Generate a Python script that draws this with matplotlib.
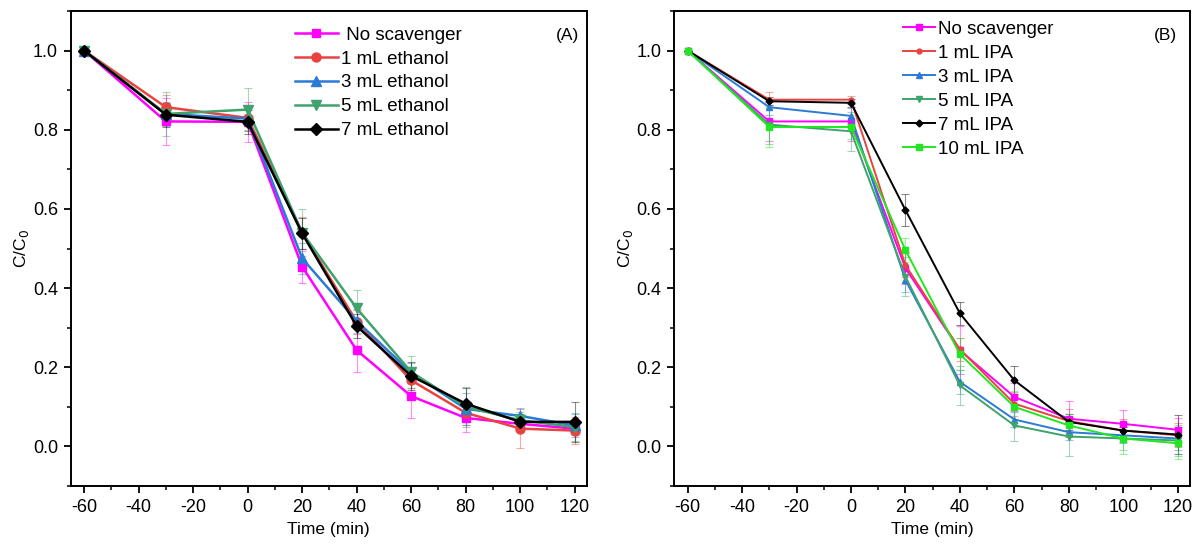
import matplotlib
matplotlib.use("Agg")
import matplotlib.pyplot as plt
from matplotlib.ticker import MultipleLocator

plt.rcParams['font.family'] = ['Liberation Sans', 'DejaVu Sans']
plt.rcParams['axes.unicode_minus'] = False

time = [-60, -30, 0, 20, 40, 60, 80, 100, 120]

# Panel A: ethanol scavenger
labels_a = [" No scavenger", "1 mL ethanol", "3 mL ethanol", "5 mL ethanol", "7 mL ethanol"]
a_none = [1.0, 0.821, 0.820, 0.454, 0.243, 0.127, 0.072, 0.057, 0.045]
a_1ml = [1.0, 0.857, 0.830, 0.540, 0.315, 0.167, 0.085, 0.045, 0.040]
a_3ml = [1.0, 0.840, 0.828, 0.475, 0.317, 0.186, 0.095, 0.077, 0.053]
a_5ml = [1.0, 0.840, 0.851, 0.540, 0.349, 0.188, 0.100, 0.066, 0.049]
a_7ml = [1.0, 0.838, 0.820, 0.538, 0.304, 0.178, 0.108, 0.062, 0.062]
a_none_err = [0.0, 0.060, 0.050, 0.040, 0.055, 0.055, 0.035, 0.015, 0.015]
a_1ml_err = [0.0, 0.030, 0.030, 0.040, 0.030, 0.020, 0.030, 0.050, 0.035]
a_3ml_err = [0.0, 0.030, 0.030, 0.040, 0.030, 0.025, 0.040, 0.020, 0.030]
a_5ml_err = [0.0, 0.055, 0.055, 0.060, 0.045, 0.040, 0.050, 0.020, 0.035]
a_7ml_err = [0.0, 0.030, 0.030, 0.040, 0.030, 0.035, 0.040, 0.020, 0.050]

# Panel B: IPA scavenger
labels_b = ["No scavenger", "1 mL IPA", "3 mL IPA", "5 mL IPA", "7 mL IPA", "10 mL IPA"]
b_none = [1.0, 0.821, 0.821, 0.450, 0.243, 0.125, 0.070, 0.057, 0.042]
b_1ml = [1.0, 0.876, 0.876, 0.458, 0.245, 0.108, 0.064, 0.040, 0.028]
b_3ml = [1.0, 0.857, 0.835, 0.420, 0.163, 0.068, 0.036, 0.028, 0.020]
b_5ml = [1.0, 0.813, 0.796, 0.429, 0.154, 0.053, 0.025, 0.020, 0.015]
b_7ml = [1.0, 0.872, 0.868, 0.597, 0.336, 0.167, 0.062, 0.040, 0.030]
b_10ml = [1.0, 0.807, 0.807, 0.496, 0.233, 0.100, 0.053, 0.020, 0.008]
b_none_err = [0.0, 0.050, 0.050, 0.040, 0.060, 0.035, 0.045, 0.035, 0.030]
b_1ml_err = [0.0, 0.020, 0.010, 0.030, 0.030, 0.030, 0.030, 0.030, 0.030]
b_3ml_err = [0.0, 0.020, 0.020, 0.030, 0.030, 0.020, 0.020, 0.020, 0.030]
b_5ml_err = [0.0, 0.050, 0.050, 0.050, 0.050, 0.040, 0.050, 0.030, 0.040]
b_7ml_err = [0.0, 0.010, 0.010, 0.040, 0.030, 0.035, 0.020, 0.020, 0.050]
b_10ml_err = [0.0, 0.050, 0.030, 0.030, 0.040, 0.040, 0.030, 0.040, 0.040]

xticks = [-60, -40, -20, 0, 20, 40, 60, 80, 100, 120]
yticks = [0.0, 0.2, 0.4, 0.6, 0.8, 1.0]

MAG = '#ff00ff'
RED = '#e8433f'
BLUE = '#2b7bd6'
GRN = '#3ea36c'
BLK = '#000000'
LIME = '#22e622'

fig = plt.figure(figsize=(11.98, 5.45), dpi=100)
axA = fig.add_axes([70.5 / 1198, 1 - 486 / 545, (587 - 70.5) / 1198, (486 - 11) / 545])
axB = fig.add_axes([674 / 1198, 1 - 486 / 545, (1190 - 674) / 1198, (486 - 11) / 545])

series_a = [
    (a_none, a_none_err, MAG, 's', 6),
    (a_1ml, a_1ml_err, RED, 'o', 6.5),
    (a_3ml, a_3ml_err, BLUE, '^', 6.5),
    (a_5ml, a_5ml_err, GRN, 'v', 6.5),
    (a_7ml, a_7ml_err, BLK, 'D', 6),
]
series_b = [
    (b_none, b_none_err, MAG, 's', 4),
    (b_1ml, b_1ml_err, RED, 'o', 3.5),
    (b_3ml, b_3ml_err, BLUE, '^', 4),
    (b_5ml, b_5ml_err, GRN, 'v', 4),
    (b_7ml, b_7ml_err, BLK, 'D', 3.5),
    (b_10ml, b_10ml_err, LIME, 's', 4),
]


def draw(ax, series, labels, lw):
    handles = []
    for (vals, err, col, mk, ms), lab in zip(series, labels):
        ax.errorbar(time, vals, yerr=err, fmt='none', ecolor=col, elinewidth=0.8,
                    capsize=3, capthick=0.8, alpha=0.45, zorder=2)
        h, = ax.plot(time, vals, color=col, marker=mk, markersize=ms, linewidth=lw,
                     label=lab, zorder=3)
        handles.append(h)
    ax.set_xlim(-65, 124.5)
    ax.set_ylim(-0.1, 1.1)
    ax.set_xticks(xticks)
    ax.set_yticks(yticks)
    ax.set_yticklabels([f"{v:.1f}" for v in yticks])
    ax.xaxis.set_minor_locator(MultipleLocator(10))
    ax.yaxis.set_minor_locator(MultipleLocator(0.1))
    ax.tick_params(which='major', direction='out', length=5, width=1.3, labelsize=13, pad=4)
    ax.tick_params(which='minor', direction='out', length=3, width=1.1)
    for s in ax.spines.values():
        s.set_linewidth(1.4)
    ax.set_xlabel("Time (min)", fontsize=12.5, labelpad=5)
    ax.set_ylabel("C/C$_0$", fontsize=12.5, labelpad=1)
    return handles


hA = draw(axA, series_a, labels_a, 1.8)
hB = draw(axB, series_b, labels_b, 1.4)

axA.legend(handles=hA, loc='upper left', bbox_to_anchor=(0.42, 0.983), frameon=False,
           fontsize=13.5, handlelength=2.3, handletextpad=0.15, labelspacing=0.36,
           borderaxespad=0.2, borderpad=0.2)
axB.legend(handles=hB, loc='upper left', bbox_to_anchor=(0.43, 0.996), frameon=False,
           fontsize=13.5, handlelength=1.7, handletextpad=0.15, labelspacing=0.37,
           borderaxespad=0.2, borderpad=0.2)

axA.text(0.985, 0.965, "(A)", transform=axA.transAxes, ha='right', va='top', fontsize=12.5)
axB.text(0.975, 0.965, "(B)", transform=axB.transAxes, ha='right', va='top', fontsize=12.5)

fig.savefig("out.png", dpi=100)
